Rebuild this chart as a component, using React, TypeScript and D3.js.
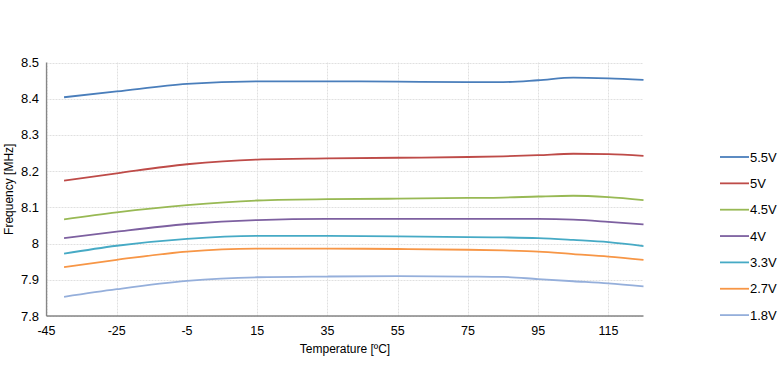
import React from "react";
import * as d3 from "d3";

const temps = [-40, -25, -5, 15, 35, 55, 75, 85, 95, 105, 115, 125];
const seriesNames = ["5.5V", "5V", "4.5V", "4V", "3.3V", "2.7V", "1.8V"];
const v55 = [8.404, 8.42, 8.441, 8.448, 8.448, 8.447, 8.446, 8.446, 8.451, 8.458, 8.456, 8.452];
const v50 = [8.174, 8.194, 8.219, 8.232, 8.235, 8.237, 8.239, 8.241, 8.244, 8.248, 8.247, 8.242];
const v45 = [8.067, 8.086, 8.106, 8.119, 8.123, 8.124, 8.126, 8.127, 8.13, 8.132, 8.128, 8.12];
const v40 = [8.015, 8.033, 8.054, 8.065, 8.068, 8.068, 8.068, 8.068, 8.068, 8.066, 8.06, 8.053];
const v33 = [7.972, 7.994, 8.013, 8.021, 8.021, 8.02, 8.018, 8.017, 8.015, 8.01, 8.004, 7.993];
const v27 = [7.935, 7.955, 7.978, 7.986, 7.986, 7.985, 7.983, 7.981, 7.978, 7.971, 7.964, 7.955];
const v18 = [7.853, 7.874, 7.897, 7.907, 7.909, 7.91, 7.909, 7.908, 7.902, 7.896, 7.89, 7.882];
const allValues = [v55, v50, v45, v40, v33, v27, v18];
const colors = ["#4A7EBB", "#BE4B48", "#98B954", "#7D60A0", "#46AAC5", "#F79646", "#95AFDB"];
const xTicks = [-45, -25, -5, 15, 35, 55, 75, 95, 115];
const yTicks = [7.8, 7.9, 8.0, 8.1, 8.2, 8.3, 8.4, 8.5];

export default function App() {
  const W = 778, H = 376;
  const x = d3.scaleLinear().domain([-45, 125]).range([46.5, 643.5]);
  const y = d3.scaleLinear().domain([7.8, 8.5]).range([316, 62.5]);
  const line = d3
    .line<number>()
    .x((_, i) => x(temps[i]))
    .y((d) => y(d))
    .curve(d3.curveMonotoneX);
  const font = "'Liberation Sans', Arial, sans-serif";
  return (
    <svg
      width={W}
      height={H}
      style={{ position: "absolute", left: 0, top: 0, background: "#fff" }}
      fontFamily={font}
    >
      {yTicks.map((t) => (
        <line
          key={"gy" + t}
          x1={x(-45)}
          x2={x(125)}
          y1={Math.round(y(t)) + 0.5}
          y2={Math.round(y(t)) + 0.5}
          stroke="#e0e0e0"
          strokeDasharray="2,1"
          strokeWidth={1}
        />
      ))}
      {xTicks.map((t) => (
        <line
          key={"gx" + t}
          x1={Math.round(x(t)) + 0.5}
          x2={Math.round(x(t)) + 0.5}
          y1={y(8.5)}
          y2={y(7.8)}
          stroke="#e0e0e0"
          strokeDasharray="2,1"
          strokeWidth={1}
        />
      ))}
      <line x1={x(-45)} x2={x(-45)} y1={y(8.5)} y2={y(7.8)} stroke="#868686" strokeWidth={1.3} />
      <line x1={x(-45)} x2={x(125)} y1={y(7.8)} y2={y(7.8)} stroke="#868686" strokeWidth={1.3} />
      {yTicks.map((t) => (
        <text key={"ty" + t} x={39} y={y(t)} dy="0.35em" textAnchor="end" fontSize={13} fill="#000">
          {d3.format("")(+t.toFixed(1))}
        </text>
      ))}
      {xTicks.map((t) => (
        <text key={"tx" + t} x={x(t)} y={331} dy="0.35em" textAnchor="middle" fontSize={12.5} fill="#000">
          {t}
        </text>
      ))}
      <text x={345} y={349} dy="0.35em" textAnchor="middle" fontSize={12} fill="#000">
        Temperature [ºC]
      </text>
      <text
        transform={`translate(9,${(y(8.5) + y(7.8)) / 2}) rotate(-90)`}
        dy="0.35em"
        textAnchor="middle"
        fontSize={12}
        fill="#000"
      >
        Frequency [MHz]
      </text>
      {allValues.map((vals, i) => (
        <path key={"s" + i} d={line(vals) || ""} fill="none" stroke={colors[i]} strokeWidth={1.8} />
      ))}
      {seriesNames.map((n, i) => {
        const ly = 157 + i * 26.35;
        return (
          <g key={"l" + n}>
            <line x1={720} x2={749} y1={ly} y2={ly} stroke={colors[i]} strokeWidth={1.8} />
            <text x={750} y={ly} dy="0.35em" fontSize={13} fill="#000">
              {n}
            </text>
          </g>
        );
      })}
    </svg>
  );
}
